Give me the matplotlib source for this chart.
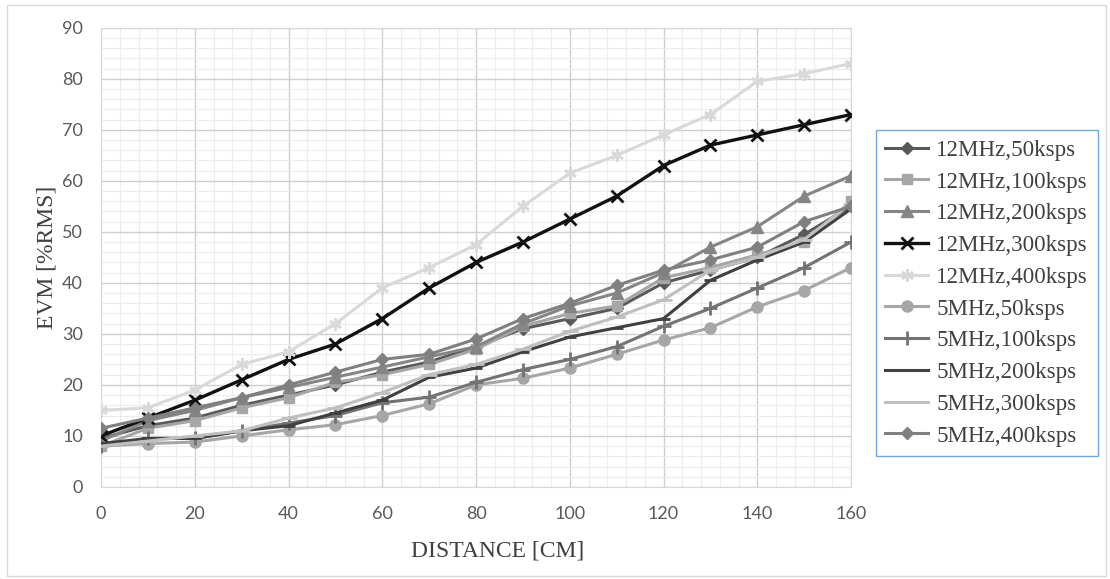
import matplotlib
matplotlib.use("Agg")
import matplotlib.pyplot as plt
from matplotlib.patches import Rectangle
from matplotlib.ticker import MultipleLocator

distance = [0, 10, 20, 30, 40, 50, 60, 70, 80, 90, 100, 110, 120, 130, 140, 150, 160]

evm_12_50 = [9.5, 12, 13.5, 16, 18, 20, 22.5, 24.5, 27.5, 31, 33, 35, 40, 42.5, 45, 49.5, 55]
evm_12_100 = [8, 11.5, 13, 15.5, 17.5, 20.5, 22, 24, 27, 31.5, 34, 35.5, 41, 43, 45.5, 48, 56]
evm_12_200 = [9, 13, 15, 17.5, 19.5, 21.5, 23.5, 25.5, 27.5, 32, 35.5, 38, 42, 47, 51, 57, 61]
evm_12_300 = [10, 13.5, 17, 21, 25, 28, 33, 39, 44, 48, 52.5, 57, 63, 67, 69, 71, 73]
evm_12_400 = [15, 15.5, 19, 24, 26.5, 32, 39, 43, 47.5, 55, 61.5, 65, 69, 73, 79.5, 81, 83]
evm_5_50 = [8, 8.5, 8.8, 10, 11.2, 12.2, 14, 16.3, 20, 21.3, 23.3, 26, 28.8, 31.2, 35.3, 38.5, 43]
evm_5_100 = [8, 9.5, 9.5, 11, 12.5, 14, 16.5, 17.6, 20.5, 23, 25, 27.5, 31.5, 35, 39, 43, 48]
evm_5_200 = [8.5, 9.5, 9.5, 11, 12, 14.5, 17, 21.5, 23.3, 26.5, 29.4, 31.2, 33, 40.5, 44.5, 48, 54.5]
evm_5_300 = [8, 9, 10, 11, 13.5, 15.5, 18.5, 22, 24, 27, 30.5, 33.3, 36.7, 42.5, 45, 48.5, 55.5]
evm_5_400 = [11.5, 13.5, 15.5, 17.5, 20, 22.5, 25, 26, 29, 33, 36, 39.5, 42.5, 44.5, 47, 52, 55]

labels = [
    "12MHz,50ksps", "12MHz,100ksps", "12MHz,200ksps", "12MHz,300ksps", "12MHz,400ksps",
    "5MHz,50ksps", "5MHz,100ksps", "5MHz,200ksps", "5MHz,300ksps", "5MHz,400ksps",
]
series = [evm_12_50, evm_12_100, evm_12_200, evm_12_300, evm_12_400,
          evm_5_50, evm_5_100, evm_5_200, evm_5_300, evm_5_400]

# estilo de cada série (cor, marcador, tamanho)
styles = [
    ("#595959", "D", 6.5),
    ("#a6a6a6", "s", 7),
    ("#858585", "^", 8),
    ("#111111", "x", 9),
    ("#d9d9d9", (6, 2, 0), 9),
    ("#a6a6a6", "o", 8),
    ("#737373", "+", 10),
    ("#404040", "_", 9),
    ("#bfbfbf", "_", 12),
    ("#808080", "D", 6.5),
]

fig = plt.figure(figsize=(11.1, 5.79), dpi=100)
fig.patches.append(Rectangle((0.006, 0.005), 0.99, 0.987, transform=fig.transFigure,
                             fill=False, edgecolor="#d9d9d9", linewidth=1))
ax = fig.add_axes([0.091, 0.159, 0.6757, 0.793])

handles = []
for i, values in enumerate(series):
    color, marker, ms = styles[i]
    lw = 2.4 if i == 3 else 2.2
    mew = 2 if marker in ("x", "+", "_") or isinstance(marker, tuple) else 1
    (h,) = ax.plot(distance, values, color=color, marker=marker, markersize=ms,
                   markeredgewidth=mew, linewidth=lw, label=labels[i], zorder=3 + i)
    handles.append(h)

ax.set_xlim(0, 160)
ax.set_ylim(0, 90)
ax.xaxis.set_major_locator(MultipleLocator(20))
ax.xaxis.set_minor_locator(MultipleLocator(4))
ax.yaxis.set_major_locator(MultipleLocator(10))
ax.yaxis.set_minor_locator(MultipleLocator(2))
ax.grid(which="major", color="#cfcfcf", linewidth=1.0)
ax.grid(which="minor", color="#ececec", linewidth=0.8)
ax.set_axisbelow(True)
ax.tick_params(which="both", length=0)
ax.tick_params(axis="y", pad=13)
ax.tick_params(axis="x", pad=14)
for lab in ax.get_xticklabels() + ax.get_yticklabels():
    lab.set_fontfamily("Lato")
    lab.set_fontsize(13)
    lab.set_color("#595959")
for spine in ax.spines.values():
    spine.set_color("#d9d9d9")

ax.set_xlabel("DISTANCE [CM]", fontfamily="Liberation Serif", fontsize=17, color="#404040")
ax.set_ylabel("EVM [%RMS]", fontfamily="Liberation Serif", fontsize=17, color="#404040")
ax.xaxis.set_label_coords(0.529, -0.139)
ax.yaxis.set_label_coords(-0.072, 0.5)
ax.xaxis.label.set_va("center")
ax.yaxis.label.set_va("center")

leg = fig.legend(handles=handles, labels=labels, loc="upper left",
                 bbox_to_anchor=(0.789, 0.7755),
                 prop={"family": "Liberation Serif", "size": 16.6},
                 labelspacing=0.46, handlelength=1.85, handletextpad=0.35,
                 borderpad=0.42, borderaxespad=0, fancybox=False, framealpha=1,
                 labelcolor="#404040")
leg.get_frame().set_edgecolor("#6fa8dc")
leg.get_frame().set_linewidth(1.0)

fig.savefig("out.png", dpi=100)
